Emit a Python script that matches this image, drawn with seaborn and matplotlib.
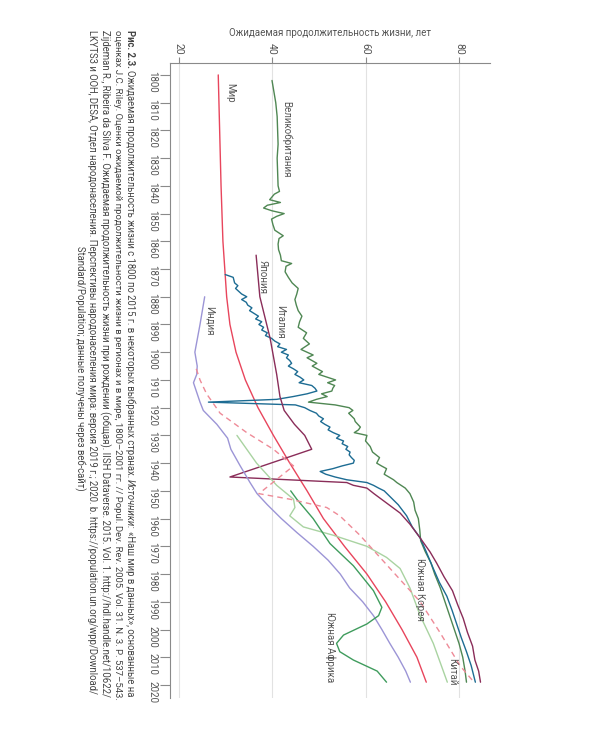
import pandas as pd
import seaborn as sns
import matplotlib.pyplot as plt
from matplotlib import font_manager

### DATA
world_years = [1800, 1820, 1840, 1860, 1870, 1880, 1890, 1900, 1910, 1920, 1930, 1940,
               1950, 1960, 1970, 1980, 1990, 2000, 2010, 2019]
world_le = [28.5, 28.8, 29.1, 29.5, 29.9, 30.3, 31.0, 32.3, 34.3, 37.0, 40.3, 43.8,
            47.5, 51.0, 55.5, 60.3, 64.3, 67.8, 71.0, 73.0]

uk_years = [1802, 1806, 1810, 1815, 1820, 1825, 1830, 1835, 1840, 1842, 1843, 1845, 1846,
            1847, 1848, 1849, 1850, 1851, 1852, 1854, 1856, 1858, 1859, 1861, 1863, 1865,
            1867, 1868, 1869, 1871, 1873, 1875, 1877, 1879, 1881, 1883, 1885, 1887, 1889,
            1891, 1893, 1895, 1897, 1899, 1901, 1902, 1904, 1905, 1907, 1908, 1910, 1911,
            1912, 1913, 1914, 1915, 1916, 1917, 1918, 1919, 1920, 1921, 1922, 1924, 1925,
            1927, 1928, 1929, 1930, 1932, 1934, 1936, 1938, 1940, 1941, 1942, 1944, 1946,
            1947, 1949, 1951, 1954, 1957, 1960, 1964, 1968, 1972, 1976, 1980, 1985, 1990,
            1995, 2000, 2005, 2010, 2015, 2019]
uk_le = [40.0, 40.4, 40.8, 41.1, 41.2, 41.3, 41.1, 41.2, 41.3, 41.6, 40.5, 39.5, 41.8,
         39.0, 38.2, 40.0, 42.6, 41.0, 39.9, 40.2, 40.6, 42.4, 41.5, 41.3, 41.4, 41.8,
         42.0, 44.2, 43.0, 42.8, 43.5, 44.3, 45.6, 45.3, 44.9, 45.2, 45.6, 46.4, 45.9,
         45.6, 47.4, 46.7, 48.0, 46.2, 48.8, 47.5, 49.6, 48.6, 50.8, 50.0, 53.6, 51.9,
         53.4, 53.0, 52.8, 50.6, 51.8, 49.5, 47.8, 53.5, 56.5, 57.3, 56.4, 57.6, 57.8,
         58.9, 58.5, 57.6, 60.3, 60.0, 61.0, 61.5, 63.0, 62.4, 63.4, 64.5, 64.0, 66.0,
         66.7, 68.5, 69.5, 70.3, 70.6, 71.3, 71.6, 71.8, 72.8, 74.0, 74.8, 76.0, 77.0,
         78.0, 79.0, 80.0, 80.8, 81.3, 81.6]

italy_years = [1872, 1873, 1875, 1876, 1877, 1879, 1880, 1881, 1882, 1883, 1884, 1885,
               1887, 1888, 1889, 1890, 1891, 1892, 1893, 1894, 1895, 1896, 1897, 1898,
               1899, 1900, 1901, 1902, 1903, 1904, 1905, 1906, 1907, 1908, 1909, 1910,
               1911, 1912, 1913, 1914, 1915, 1916, 1917, 1918, 1919, 1920, 1921, 1922,
               1923, 1924, 1925, 1926, 1927, 1928, 1929, 1930, 1931, 1932, 1933, 1934,
               1935, 1936, 1937, 1938, 1939, 1940, 1941, 1942, 1943, 1944, 1945, 1946,
               1947, 1948, 1949, 1950, 1952, 1955, 1959, 1963, 1967, 1972, 1978, 1983,
               1988, 1993, 1998, 2003, 2008, 2013, 2019]
italy_le = [30.0, 31.7, 32.0, 32.7, 32.2, 33.5, 34.6, 33.5, 34.5, 34.8, 35.7, 35.2,
            37.1, 36.5, 37.8, 37.2, 38.2, 37.8, 39.0, 38.6, 39.9, 40.6, 41.7, 41.2,
            43.1, 42.0, 43.5, 43.1, 43.8, 44.2, 43.5, 44.6, 45.5, 44.9, 46.0, 46.8,
            45.8, 48.5, 49.2, 49.6, 47.5, 44.5, 41.0, 26.4, 45.0, 47.0, 48.1, 49.5,
            50.0, 51.0, 50.4, 51.3, 52.4, 52.0, 53.1, 54.5, 53.8, 55.3, 55.0, 56.2,
            55.8, 56.7, 56.5, 57.0, 57.6, 57.4, 55.0, 53.0, 50.3, 51.5, 53.5, 56.0,
            60.3, 61.7, 62.8, 64.0, 65.2, 67.0, 68.8, 70.0, 71.7, 73.0, 74.5, 75.8,
            77.4, 78.5, 79.5, 80.5, 81.6, 82.6, 83.5]

japan_years = [1865, 1880, 1895, 1908, 1916, 1921, 1926, 1930, 1935, 1945, 1947, 1948,
               1949, 1951, 1955, 1958, 1962, 1967, 1972, 1976, 1981, 1986, 1991, 1996,
               2001, 2006, 2011, 2015, 2019]
japan_le = [36.6, 37.4, 39.6, 41.0, 41.7, 42.6, 44.8, 47.0, 48.5, 31.0, 56.0, 57.4,
            60.3, 61.8, 65.0, 67.4, 69.5, 71.7, 73.8, 75.2, 76.8, 78.6, 79.7, 80.9,
            81.8, 82.9, 83.4, 84.2, 84.6]

india_years = [1880, 1890, 1900, 1905, 1908, 1911, 1915, 1918, 1921, 1926, 1931, 1935,
               1941, 1947, 1951, 1955, 1960, 1965, 1970, 1975, 1980, 1985, 1990, 1995,
               2000, 2005, 2010, 2015, 2019]
india_le = [25.6, 24.6, 23.5, 24.0, 23.9, 23.2, 24.0, 24.6, 25.3, 28.2, 30.5, 31.2,
            33.2, 35.3, 36.8, 39.0, 42.0, 45.3, 48.8, 52.0, 54.6, 56.6, 59.4, 61.7,
            63.5, 65.2, 67.0, 68.6, 69.6]

china_years = [1930, 1940, 1948, 1953, 1956, 1959, 1963, 1966, 1970, 1974, 1978, 1985,
               1995, 2005, 2019]
china_le = [32.5, 36.7, 41.0, 44.6, 44.9, 43.8, 46.7, 53.1, 60.3, 64.5, 67.4, 69.5,
            71.7, 74.5, 77.5]

safrica_years = [1950, 1953, 1960, 1969, 1977, 1986, 1992, 1995, 1998, 2002, 2005, 2008,
                 2011, 2015, 2019]
safrica_le = [44.0, 45.3, 48.8, 52.4, 57.4, 61.7, 63.5, 62.8, 60.3, 55.3, 53.8, 54.5,
              57.4, 62.5, 64.5]

skorea_years = [1906, 1910, 1915, 1922, 1929, 1935, 1941, 1951, 1953, 1956, 1959, 1966,
                1974, 1982, 1990, 2001, 2013, 2019]
skorea_le = [23.8, 24.6, 26.0, 28.9, 34.6, 40.3, 44.6, 37.2, 43.8, 51.7, 54.5, 58.8,
             63.1, 67.4, 71.7, 75.9, 80.2, 83.2]

country_names = ['Мир', 'Великобритания', 'Италия', 'Япония', 'Индия', 'Китай',
                 'Южная Африка', 'Южная Корея']

# long dataframe for seaborn
parts = [(world_years, world_le), (uk_years, uk_le), (italy_years, italy_le),
         (japan_years, japan_le), (india_years, india_le), (china_years, china_le),
         (safrica_years, safrica_le), (skorea_years, skorea_le)]
df = pd.concat([pd.DataFrame({'year': y, 'le': v, 'country': n})
                for n, (y, v) in zip(country_names, parts)], ignore_index=True)

colors = {'Мир': '#e8455c', 'Великобритания': '#4f8753', 'Италия': '#1d6c93',
          'Япония': '#8a2d59', 'Индия': '#9c95d6', 'Китай': '#a9d3a1',
          'Южная Африка': '#3f9c5d', 'Южная Корея': '#ee8a97'}

# label anchor (life expectancy, year) for the in-chart names
label_pos = {'Мир': (31.0, 1806.5), 'Великобритания': (43.2, 1823.3), 'Япония': (37.9, 1872.8),
             'Италия': (41.7, 1889.1), 'Индия': (26.7, 1888.7), 'Южная Корея': (71.6, 1985.4),
             'Южная Африка': (52.4, 2006.3), 'Китай': (78.5, 2015.3)}

### STYLE
sns.set_theme(style='white')
installed = {f.name for f in font_manager.fontManager.ttflist}
narrow = 'Liberation Sans Narrow' if 'Liberation Sans Narrow' in installed else 'Roboto'
plt.rcParams['font.family'] = [narrow, 'DejaVu Sans']

fig = plt.figure(figsize=(6, 7.5), dpi=100)
ax = fig.add_axes([170 / 600, 1 - 698 / 750, 320 / 600, 635 / 750])

for name in country_names:
    sub = df[df['country'] == name]
    ls = (0, (4, 3)) if name == 'Южная Корея' else '-'
    sns.lineplot(data=sub, x='le', y='year', color=colors[name], lw=1.0, linestyle=ls,
                 estimator=None, sort=False, legend=False, ax=ax)

for name, (lx, ly) in label_pos.items():
    ax.text(lx, ly, name, rotation=270, ha='center', va='center', fontsize=7, color='#555555')

ax.set_xlim(18.18, 86.63)
ax.set_ylim(2024.7, 1795.7)
ax.xaxis.tick_top()
ax.set_xticks([20, 40, 60, 80])
ax.set_yticks(list(range(1800, 2021, 10)))
ax.set_xlabel('')
ax.set_ylabel('')
ax.tick_params(axis='x', top=True, bottom=False, direction='out', length=4, width=0.8,
               color='#8a8a8a', labelsize=7.5, labelcolor='#555555', labelrotation=270, pad=2)
ax.tick_params(axis='y', left=True, direction='out', length=7, width=0.8,
               color='#8a8a8a', labelsize=7, labelcolor='#555555', labelrotation=270, pad=2)
ax.grid(axis='x', color='#e2e2e2', lw=0.8)
ax.grid(axis='y', visible=False)
for side in ['right', 'bottom']:
    ax.spines[side].set_visible(False)
for side in ['top', 'left']:
    ax.spines[side].set_color('#8a8a8a')
    ax.spines[side].set_linewidth(0.8)

fig.text(330 / 600, 1 - 33 / 750, 'Ожидаемая продолжительность жизни, лет',
         ha='center', va='center', fontsize=7, color='#555555')

### CAPTION (rotated, lines stack to the left)
cap_kw = dict(rotation=270, fontsize=6, color='#444444')
t0 = fig.text(130 / 600, 1 - 30 / 750, 'Рис. 2.3.', ha='center', va='top',
              fontweight='bold', **cap_kw)
t1 = ax.annotate('Ожидаемая продолжительность жизни с 1800 по 2015 г. в некоторых выбранных странах.',
                 xy=(0.5, 0), xycoords=t0, xytext=(0, -1.5), textcoords='offset points',
                 ha='center', va='top', **cap_kw)
t2 = ax.annotate('Источники:', xy=(0.5, 0), xycoords=t1, xytext=(0, -1.5),
                 textcoords='offset points', ha='center', va='top', style='italic', **cap_kw)
t3 = ax.annotate('«Наш мир в данных», основанные на', xy=(0.5, 0), xycoords=t2, xytext=(0, -1.5),
                 textcoords='offset points', ha='center', va='top', **cap_kw)
first_line = [t0, t1, t2, t3]

cap_lines = ['оценках J.C. Riley. Оценки ожидаемой продолжительности жизни в регионах и в мире, '
             '1800–2001 гг. // Popul. Dev. Rev. 2005. Vol. 31. N. 3. P. 537–543.',
             'Zijdeman R., Ribeira da Silva F. Ожидаемая продолжительность жизни при рождении (общая). '
             'IISH Dataverse. 2015. Vol. 1. http://hdl.handle.net/10622/',
             'LKYTS3 и ООН, DESA, Отдел народонаселения. Перспективы народонаселения мира: '
             'версия 2019 г.; 2020. b. https://population.un.org/wpp/Download/']
other_lines = []
for i, line in enumerate(cap_lines):
    other_lines.append(fig.text((117.5 - 12.7 * i) / 600, 1 - 30 / 750, line,
                                ha='center', va='top', **cap_kw))
last = fig.text(79.5 / 600, 1 - 368 / 750, 'Standard/Population; данные получены через веб-сайт)',
                ha='center', va='center', **cap_kw)

# scale caption lines so they run the same length (justified look)
target = 672
fig.canvas.draw()
rend = fig.canvas.get_renderer()
span = sum(t.get_window_extent(rend).height for t in first_line) + 3 * 2
sizes = [6 * target / span]
for t in first_line:
    t.set_fontsize(sizes[0])
for t in other_lines:
    h = t.get_window_extent(rend).height
    sizes.append(6 * target / h)
    t.set_fontsize(sizes[-1])
last.set_fontsize(sum(sizes) / len(sizes))

fig.savefig('out.png', dpi=100, facecolor='white')
